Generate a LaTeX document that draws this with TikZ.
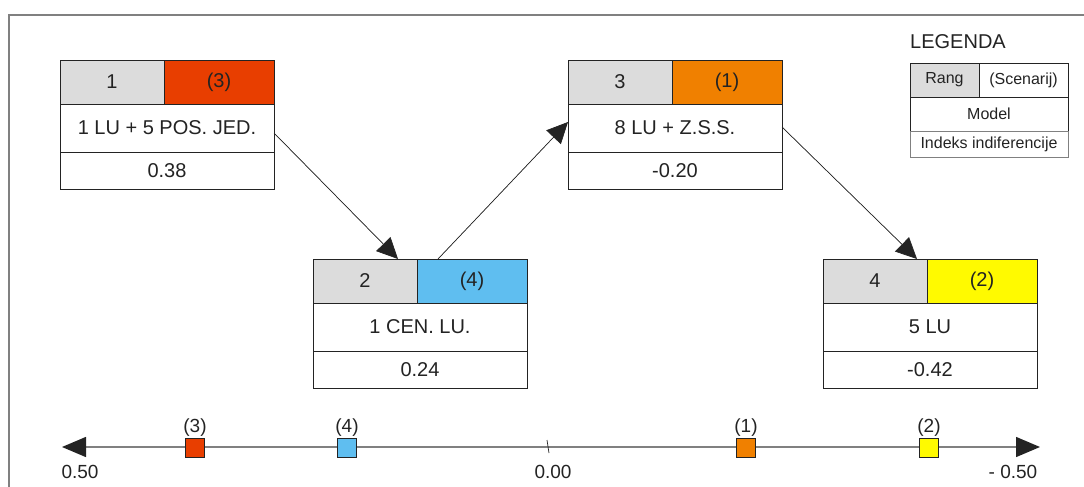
\documentclass[tikz,border=0pt]{standalone}
\usepackage{fontspec}
\setmainfont{Liberation Sans}
\usepackage{xcolor}
\usepackage{tikz}
\usetikzlibrary{arrows.meta,positioning}

\definecolor{rankgrey}{RGB}{220,220,220}
\definecolor{scenred}{RGB}{232,62,0}
\definecolor{scenorange}{RGB}{240,128,0}
\definecolor{scenblue}{RGB}{95,190,240}
\definecolor{scenyellow}{RGB}{255,250,0}
\definecolor{inkdark}{RGB}{35,35,35}
\definecolor{framegrey}{RGB}{128,128,128}

\begin{document}
\begin{tikzpicture}[
  x=1pt, y=-1pt,
  cell/.style={draw=inkdark, line width=0.8pt, inner sep=0pt, outer sep=0pt, text=inkdark, font=\fontsize{20}{24}\selectfont},
  rankcell/.style={cell, fill=rankgrey, minimum width=104pt, minimum height=44pt},
  scencell/.style={cell, minimum width=110pt, minimum height=44pt},
  modelcell/.style={cell, fill=white, minimum width=214pt, minimum height=48pt},
  indexcell/.style={cell, fill=white, minimum width=214pt, minimum height=37pt},
  legcell/.style={cell, line width=0.7pt, font=\fontsize{16}{19}\selectfont},
  axmark/.style={draw=inkdark, line width=0.7pt, minimum size=19pt, inner sep=0pt},
  axlabel/.style={text=inkdark, inner sep=0pt, font=\fontsize{19}{22}\selectfont},
  arrow/.style={-{Triangle[length=21pt,width=20pt]}, draw=inkdark, fill=inkdark, line width=0.7pt},
  axisline/.style={{Triangle[length=24pt,width=20pt,color=inkdark]}-{Triangle[length=24pt,width=20pt,color=inkdark]}, draw=framegrey, line width=1.4pt}
]
\useasboundingbox (0,0) rectangle (1084,487);
\draw[framegrey, line width=1.3pt] (9,487) -- (9,15) -- (1084,15);

% model boxes
\node[rankcell, anchor=north west] (r1) at (60,60) {1};
\node[scencell, fill=scenred, right=0pt of r1] (s1) {(3)};
\node[modelcell, below right=0pt and 0pt of r1.south west] (m1) {1 LU + 5 POS. JED.};
\node[indexcell, below=0pt of m1] (i1) {0.38};

\node[rankcell, anchor=north west] (r2) at (313,259) {2};
\node[scencell, fill=scenblue, right=0pt of r2] (s2) {(4)};
\node[modelcell, below right=0pt and 0pt of r2.south west] (m2) {1 CEN. LU.};
\node[indexcell, below=0pt of m2] (i2) {0.24};

\node[rankcell, anchor=north west] (r3) at (568,60) {3};
\node[scencell, fill=scenorange, right=0pt of r3] (s3) {(1)};
\node[modelcell, below right=0pt and 0pt of r3.south west] (m3) {8 LU + Z.S.S.};
\node[indexcell, below=0pt of m3] (i3) {-0.20};

\node[rankcell, anchor=north west] (r4) at (823,259) {4};
\node[scencell, fill=scenyellow, right=0pt of r4] (s4) {(2)};
\node[modelcell, below right=0pt and 0pt of r4.south west] (m4) {5 LU};
\node[indexcell, below=0pt of m4] (i4) {-0.42};

\draw[arrow] ([yshift=-5pt]m1.east) -- ([xshift=-19pt]r2.north east);
\draw[arrow] ([xshift=21pt]s2.north west) -- ([yshift=6pt]m3.west);
\draw[arrow] ([yshift=1pt]m3.east) -- ([xshift=-10pt]r4.north east);

% legend
\node[axlabel, font=\fontsize{20}{24}\selectfont, anchor=west] (legtitle) at (910,42) {LEGENDA};
\node[legcell, fill=rankgrey, anchor=north west, minimum width=69pt, minimum height=34pt] (lr) at (910,63) {Rang};
\node[legcell, right=0pt of lr, minimum width=89pt, minimum height=34pt] (ls) {(Scenarij)};
\node[legcell, below right=0pt and 0pt of lr.south west, minimum width=158pt, minimum height=34pt] (lm) {Model};
\node[legcell, draw=framegrey, below=0pt of lm, minimum width=158pt, minimum height=26pt] (li) {Indeks indiferencije};

% axis
\coordinate (axL) at (62,447);
\coordinate (axR) at (1040,447);
\draw[axisline] (axL) -- (axR);
\coordinate (zero) at (548,447);
\draw[inkdark, line width=0.7pt] ([shift={(-1,-7)}]zero) -- ([shift={(1,6)}]zero);

\node[axmark, fill=scenred] (k3) at (195,448) {};
\node[axmark, fill=scenblue] (k4) at (347,448) {};
\node[axmark, fill=scenorange] (k1) at (746,448) {};
\node[axmark, fill=scenyellow] (k2) at (929,448) {};
\node[axlabel, above=2pt of k3] {(3)};
\node[axlabel, above=2pt of k4] {(4)};
\node[axlabel, above=2pt of k1] {(1)};
\node[axlabel, above=2pt of k2] {(2)};

\node[axlabel] (lblL) at (80,472) {0.50};
\node[axlabel] (lblM) at (553,472) {0.00};
\node[axlabel] (lblR) at (1013,472) {- 0.50};
\end{tikzpicture}
\end{document}
